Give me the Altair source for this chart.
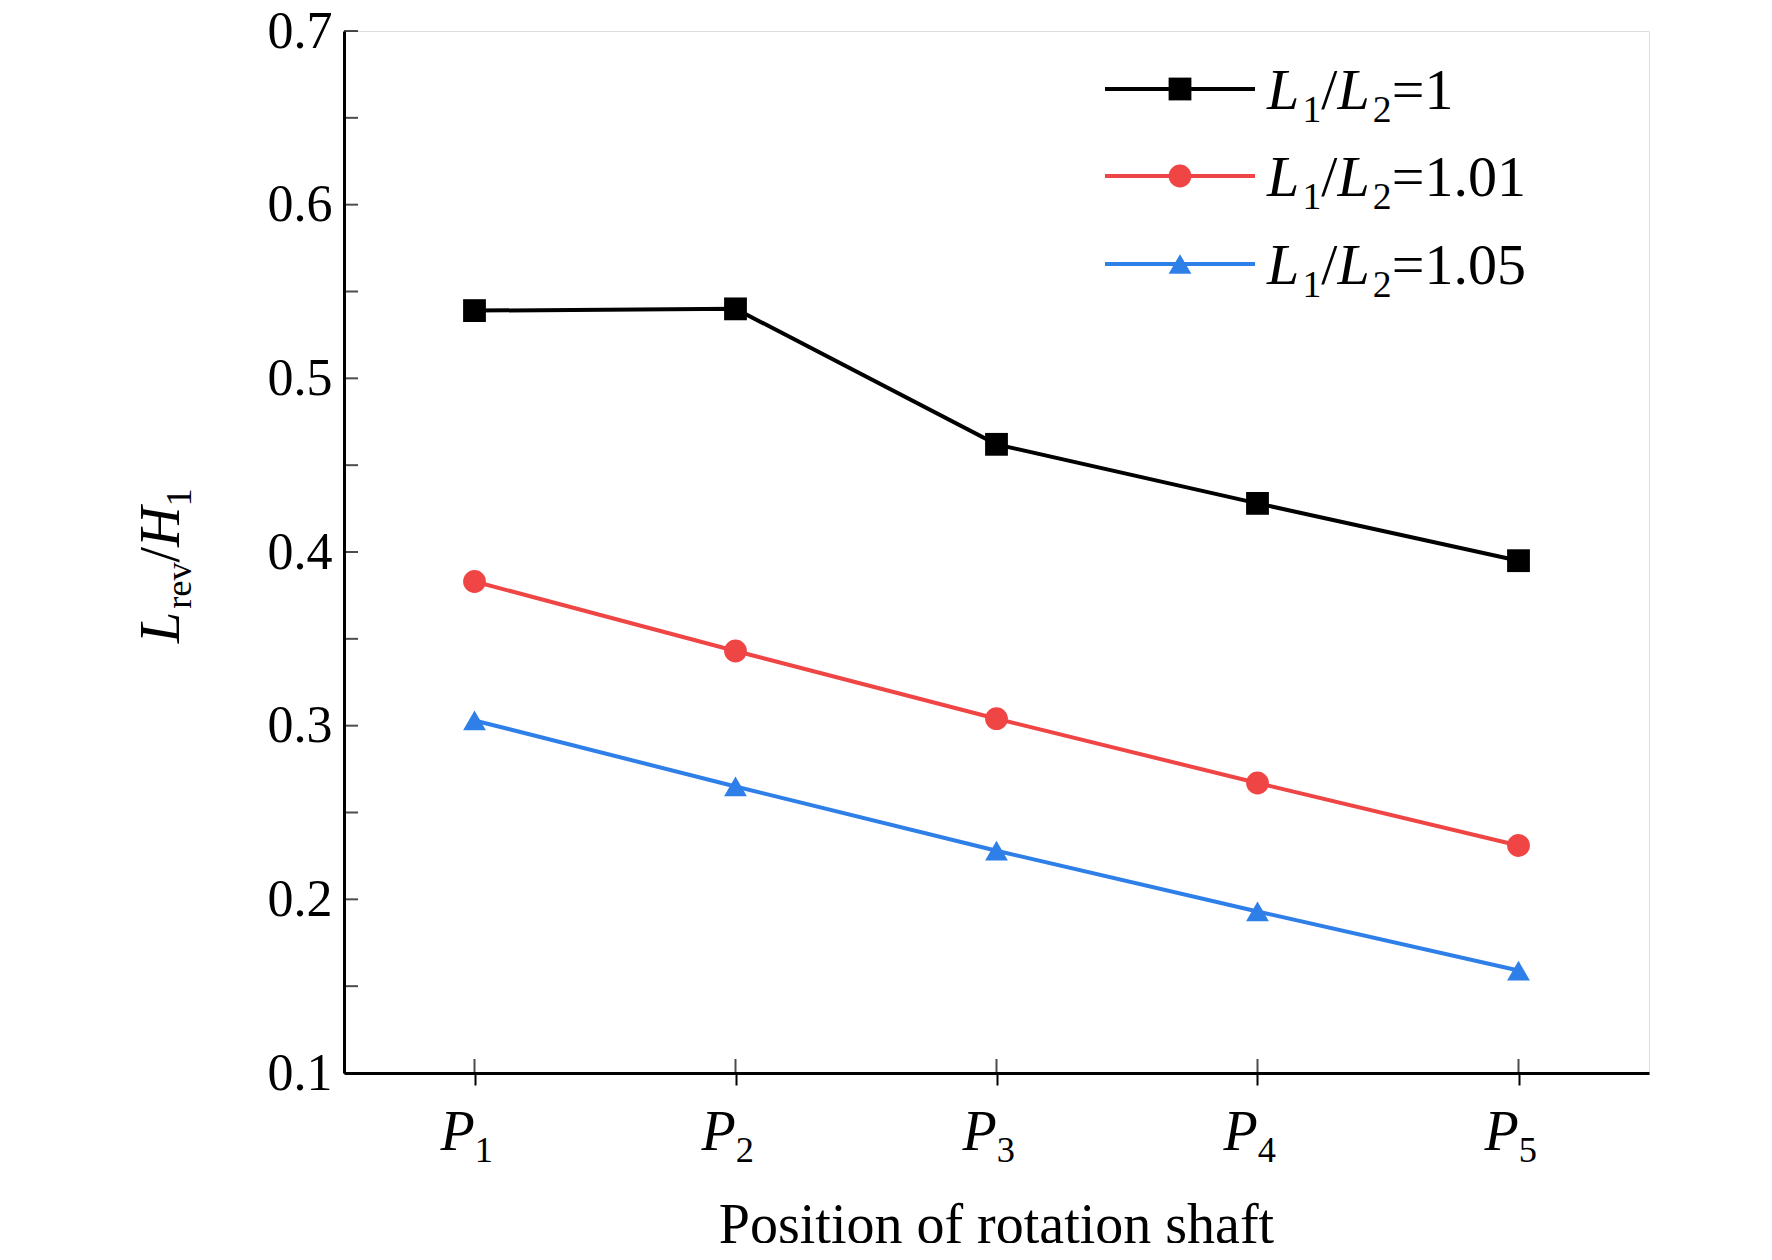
import altair as alt
import pandas as pd

positions = [1, 2, 3, 4, 5]
ratio_1 = [0.539, 0.540, 0.462, 0.428, 0.395]
ratio_101 = [0.383, 0.343, 0.304, 0.267, 0.231]
ratio_105 = [0.303, 0.265, 0.228, 0.193, 0.159]
series = ["L1/L2=1", "L1/L2=1.01", "L1/L2=1.05"]
colors = ["#000000", "#f04545", "#2f7fe8"]
shapes = ["square", "circle", "triangle-up"]

W, H = 1305, 1042
FONT = "Liberation Serif"
WID = {"L": .61, "H": .72, "P": .61, "/": .28, "=": .56, ".": .25, "r": .33, "e": .44, "v": .5}


def rich(pieces, x0, y0, size, color="black", angle=0):
    """pieces: (text, italic, sub). Returns list of text layers laid along a line."""
    layers = []
    pos = 0.0
    for txt, ital, sub in pieces:
        fs = size * (0.65 if sub else 1.0)
        shift = size * 0.22 if sub else 0
        if angle == 0:
            x, y = x0 + pos, y0 + shift
        else:  # rotated 270: text runs upward
            x, y = x0 + shift, y0 - pos
        layers.append(
            alt.Chart(pd.DataFrame({"t": [txt]})).mark_text(
                font=FONT, fontSize=fs, fontStyle="italic" if ital else "normal",
                align="left", baseline="alphabetic", angle=angle, color=color,
            ).encode(x=alt.value(x), y=alt.value(y), text="t:N")
        )
        pos += sum(WID.get(c, 0.5) for c in txt) * fs
    return layers


rows = []
for name, vals in zip(series, [ratio_1, ratio_101, ratio_105]):
    for p, v in zip(positions, vals):
        rows.append({"pos": p, "val": v, "series": name})
df = pd.DataFrame(rows)

xs = alt.Scale(domain=[0.5, 5.5])
ys = alt.Scale(domain=[0.1, 0.7])
color = alt.Color("series:N", scale=alt.Scale(domain=series, range=colors), legend=None)
shape = alt.Shape("series:N", scale=alt.Scale(domain=series, range=shapes), legend=None)

base = alt.Chart(df).encode(
    x=alt.X("pos:Q", scale=xs, axis=alt.Axis(values=positions, labels=False, tickSize=12,
                                               tickWidth=2, tickColor="black", title=None,
                                               domainColor="black", domainWidth=3, grid=False)),
    y=alt.Y("val:Q", scale=ys, axis=alt.Axis(values=[0.1, 0.2, 0.3, 0.4, 0.5, 0.6, 0.7],
                                               format=".1f", labelFont=FONT, labelFontSize=52,
                                               labelColor="black", labelPadding=12, tickSize=0,
                                               title=None, domainColor="black", domainWidth=3,
                                               grid=False)),
    color=color,
)
lines = base.mark_line(strokeWidth=4)
points = base.mark_point(filled=True, size=520, opacity=1).encode(shape=shape)

# inward ticks on left axis at every 0.05 and on bottom at each position
yt = pd.DataFrame({"v": [0.1 + 0.05 * i for i in range(13)]})
yticks = alt.Chart(yt).mark_tick(color="black", thickness=2, size=14, orient="horizontal").encode(
    y=alt.Y("v:Q", scale=ys), x=alt.value(7))
xt = pd.DataFrame({"p": positions})
xticks = alt.Chart(xt).mark_tick(color="black", thickness=2, size=14, orient="vertical").encode(
    x=alt.X("p:Q", scale=xs), y=alt.value(H - 7))

layers = [lines, points, yticks, xticks]

# x tick labels
for p in positions:
    px = (p - 0.5) / 5 * W - 34
    layers += rich([("P", True, False), (str(p), False, True)], px, 1119, 56)

# axis titles
layers.append(alt.Chart(pd.DataFrame({"t": ["Position of rotation shaft"]})).mark_text(
    font=FONT, fontSize=56, align="center", baseline="alphabetic", color="black").encode(
    x=alt.value(W / 2), y=alt.value(1212), text="t:N"))
layers += rich([("L", True, False), ("rev", False, True), ("/", False, False),
                ("H", True, False), ("1", False, True)], -165, 612, 56, angle=270)

# legend
leg_y = [58, 145, 233]
for name, c, s, y, tail in zip(series, colors, shapes, leg_y, ["=1", "=1.01", "=1.05"]):
    layers.append(alt.Chart(pd.DataFrame({"a": [0]})).mark_rule(color=c, strokeWidth=4).encode(
        x=alt.value(761), x2=alt.value(911), y=alt.value(y)))
    layers.append(alt.Chart(pd.DataFrame({"a": [0]})).mark_point(
        shape=s, filled=True, size=520, color=c, opacity=1).encode(x=alt.value(836), y=alt.value(y)))
    layers += rich([("L", True, False), ("1", False, True), ("/", False, False),
                    ("L", True, False), ("2", False, True), (tail, False, False)],
                   923, y + 20, 58)

chart = alt.layer(*layers).properties(
    width=W, height=H,
    autosize=alt.AutoSizeParams(type="none"),
    padding={"left": 336, "top": 23, "right": 110, "bottom": 170},
).configure_view(stroke="black", strokeWidth=3).configure(background="white")

chart.save("out.html", embed_options={"renderer": "svg", "actions": False})
